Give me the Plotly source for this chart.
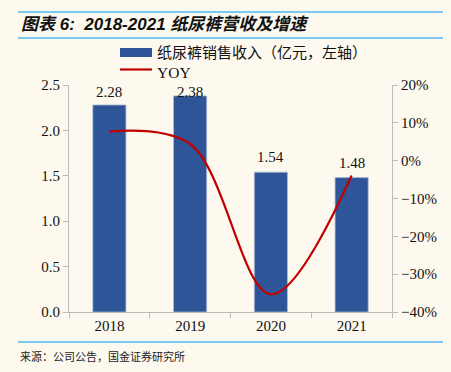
import plotly.graph_objects as go

years = ["2018", "2019", "2020", "2021"]
revenue = [2.28, 2.38, 1.54, 1.48]
yoy = [7.7, 4.4, -35.3, -3.9]
revenue_labels = ["2.28", "2.38", "1.54", "1.48"]
legend_names = ["纸尿裤销售收入（亿元，左轴）", "YOY"]

W, H = 451, 372
L, R, T, B = 69, 392, 85, 312
pw, ph = R - L, B - T
Y1_MAX = 2.5

def px(x):
    return (x - L) / pw

def py(y):
    return (B - y) / ph

serif = "Liberation Serif, Times New Roman, serif"
cjk = "Noto Sans CJK SC, sans-serif"
bg = "#FDF9EF"
bar_color = "#2E5597"
line_color = "#C00000"

fig = go.Figure()
fig.add_trace(go.Bar(
    x=years, y=revenue, name=legend_names[0],
    marker=dict(color=bar_color, line=dict(color="#A9B9D6", width=0.8)),
    width=0.41, yaxis="y",
))
fig.add_trace(go.Scatter(
    x=years, y=yoy, name=legend_names[1], mode="lines",
    line=dict(color=line_color, width=2.2, shape="spline", smoothing=1.0),
    yaxis="y2",
))

# data labels: 15px above bar top, but kept from rising above the plot top
for i, (v, lab) in enumerate(zip(revenue, revenue_labels)):
    top_px = B - v / Y1_MAX * ph
    center = max(T + 7, top_px - 15)
    fig.add_annotation(x=i, y=v, xref="x", yref="y", text=lab, showarrow=False,
                       yanchor="middle", yshift=top_px - center,
                       font=dict(family=serif, size=15, color="#111"))

fig.update_layout(
    width=W, height=H,
    margin=dict(l=L, r=W - R, t=T, b=H - B, autoexpand=False),
    paper_bgcolor=bg, plot_bgcolor=bg,
    showlegend=False,
    xaxis=dict(type="category", showline=True, linecolor="#BBBBBB", linewidth=1,
               ticks="outside", tickson="boundaries", ticklen=5, tickcolor="#BBBBBB",
               tickfont=dict(family=serif, size=15, color="#111"), showgrid=False),
    yaxis=dict(range=[0, Y1_MAX], dtick=0.5, tickformat=".1f", showline=True,
               linecolor="#BBBBBB", ticks="outside", ticklen=5, tickcolor="#BBBBBB",
               tickfont=dict(family=serif, size=15, color="#111"), showgrid=False,
               zeroline=False),
    yaxis2=dict(range=[-40, 20], dtick=10, ticksuffix="%", overlaying="y", side="right",
                showline=True, linecolor="#BBBBBB", ticks="outside", ticklen=5,
                tickcolor="#BBBBBB", tickfont=dict(family=serif, size=15, color="#111"),
                showgrid=False, zeroline=False),
)

for yy in (12, 38, 342):
    fig.add_shape(type="line", xref="paper", yref="paper", x0=px(18), x1=px(443),
                  y0=py(yy), y1=py(yy), line=dict(color="#7CC8EE", width=2))

# manual legend
fig.add_shape(type="rect", xref="paper", yref="paper", x0=px(120), x1=px(152),
              y0=py(48), y1=py(57), fillcolor=bar_color, line=dict(width=0))
fig.add_shape(type="line", xref="paper", yref="paper", x0=px(120), x1=px(152),
              y0=py(69.5), y1=py(69.5), line=dict(color=line_color, width=2.2))
fig.add_annotation(xref="paper", yref="paper", x=px(155), y=py(51.5), xanchor="left",
                   yanchor="middle", showarrow=False, text=legend_names[0],
                   font=dict(family=cjk, size=15, color="#111"))
fig.add_annotation(xref="paper", yref="paper", x=px(155), y=py(72), xanchor="left",
                   yanchor="middle", showarrow=False, text=legend_names[1],
                   font=dict(family=serif, size=15.5, color="#111"))

fig.add_annotation(xref="paper", yref="paper", x=px(19), y=py(25), xanchor="left",
                   yanchor="middle", showarrow=False,
                   text="<b><i>图表 6:  2018-2021 纸尿裤营收及增速</i></b>",
                   font=dict(family="Liberation Sans, Arial, " + cjk, size=17, color="#111"))
fig.add_annotation(xref="paper", yref="paper", x=px(18), y=py(356), xanchor="left",
                   yanchor="middle", showarrow=False,
                   text="来源：公司公告，国金证券研究所",
                   font=dict(family=cjk, size=11, color="#222"))

fig.write_html("out.html", config={"displayModeBar": False},
               post_script="document.body.style.margin='0';document.body.style.overflow='hidden';")
